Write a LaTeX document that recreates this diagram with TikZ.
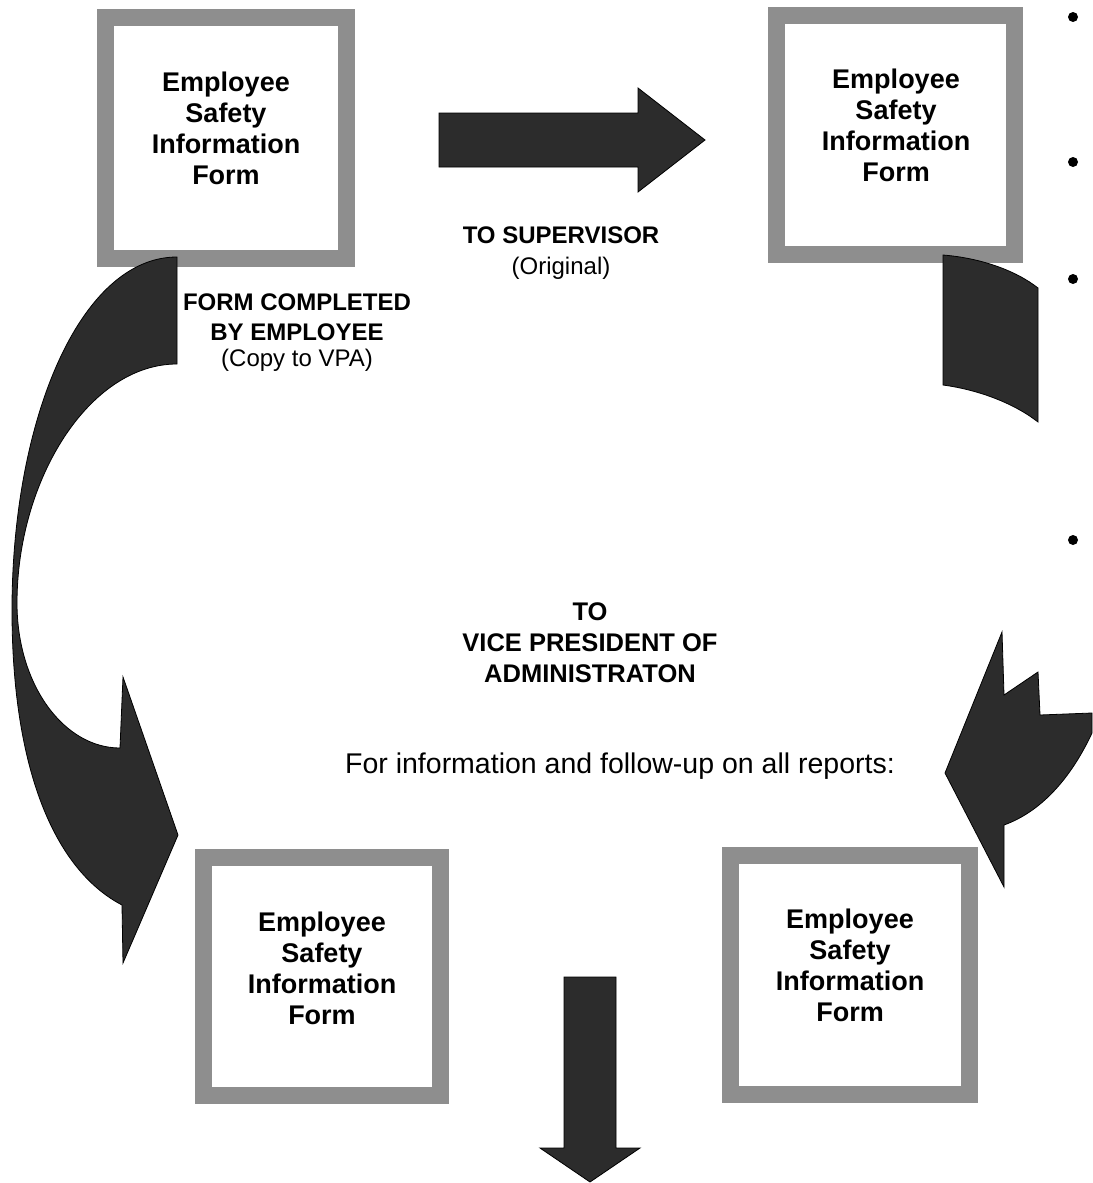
\documentclass[tikz,border=0pt]{standalone}
\usepackage{fontspec}
\setmainfont{Liberation Sans}
\definecolor{framegray}{RGB}{142,142,142}
\definecolor{arrowfill}{RGB}{44,44,44}
\tikzset{
  formbox/.style={draw=framegray, line width=17pt, fill=white, inner sep=0pt},
  formtext/.style={align=center, font=\bfseries\fontsize{27}{31}\selectfont},
  boldlabel/.style={align=center, font=\bfseries\fontsize{24}{30}\selectfont},
  vplabel/.style={align=center, font=\bfseries\fontsize{25.5}{31}\selectfont},
  plainlabel/.style={align=center, font=\fontsize{24}{28}\selectfont},
  biglabel/.style={align=center, font=\fontsize{28.5}{32}\selectfont},
  blockarrow/.style={fill=arrowfill, draw=black, line width=0.8pt, line join=miter},
  bulletdot/.style={fill=black, circle, inner sep=0pt, minimum size=10pt}
}
\begin{document}
\begin{tikzpicture}[x=1pt,y=-1pt]
\fill[white] (0,0) rectangle (1092,1183);
\useasboundingbox (0,0) rectangle (1092,1183);

% boxes
\node[formbox, minimum width=241pt, minimum height=241pt] (f1) at (226,138) {};
\node[formbox, minimum width=238pt, minimum height=239pt] (f2) at (895.5,135) {};
\node[formbox, minimum width=237pt, minimum height=238pt] (f3) at (322,976.5) {};
\node[formbox, minimum width=239pt, minimum height=239pt] (f4) at (850,975) {};

\node[formtext] (t1) at (226,128) {Employee\\Safety\\Information\\Form};
\node[formtext] (t2) at (896,125.5) {Employee\\Safety\\Information\\Form};
\node[formtext] (t3) at (322,968) {Employee\\Safety\\Information\\Form};
\node[formtext] (t4) at (850,965) {Employee\\Safety\\Information\\Form};

% straight arrow to supervisor
\filldraw[blockarrow] (439,113) -- (638,113) -- (638,88) -- (705,140) -- (638,192) -- (638,167) -- (439,167) -- cycle;

% down arrow
\filldraw[blockarrow] (564,977) -- (616,977) -- (616,1148) -- (640,1148) -- (590,1182) -- (540,1148) -- (564,1148) -- cycle;

% left curved arrow
\filldraw[blockarrow] (177,257)
  .. controls (80,257) and (12,420) .. (12,610)
  .. controls (12,770) and (55,870) .. (122,905)
  -- (123,963) -- (178,835) -- (123,677) -- (120,748)
  .. controls (64,748) and (17,685) .. (17,603)
  .. controls (17,480) and (89,364) .. (177,364)
  -- cycle;

% right top piece of curved arrow
\filldraw[blockarrow] (943,255) .. controls (980,258) and (1015,270) .. (1038,288)
  -- (1038,422) .. controls (1015,404) and (980,390) .. (943,385) -- cycle;

% right lower arrowhead piece
\filldraw[blockarrow] (1002,632) -- (1004,695) -- (1038,672) -- (1040,715) -- (1092,713)
  -- (1092,733) .. controls (1070,780) and (1040,812) .. (1004,825)
  -- (1004,887) -- (945,773) -- cycle;

% labels
\node[boldlabel] (l1) at (561,235) {TO SUPERVISOR};
\node[plainlabel] (l1b) at (561,268) {(Original)};
\node[boldlabel] (l2) at (297,317) {FORM COMPLETED\\BY EMPLOYEE};
\node[plainlabel] (l2b) at (297,360) {(Copy to VPA)};
\node[vplabel] (l3) at (590,643) {TO\\VICE PRESIDENT OF\\ADMINISTRATON};
\node[biglabel] (l4) at (620,766) {For information and follow-up on all reports:};

% bullets
\node[bulletdot] (b1) at (1073,17) {};
\node[bulletdot] (b2) at (1073,162) {};
\node[bulletdot] (b3) at (1073,279) {};
\node[bulletdot] (b4) at (1073,540) {};
\end{tikzpicture}
\end{document}
